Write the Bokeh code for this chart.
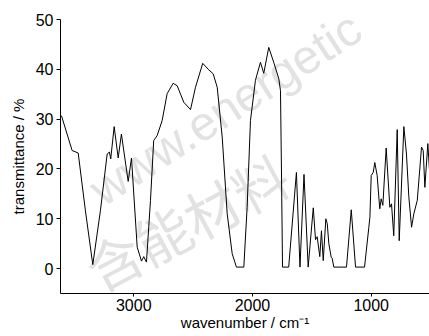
from bokeh.plotting import figure
from bokeh.models import Range1d, FixedTicker, Label
from bokeh.embed import file_html
from bokeh.resources import INLINE

# IR spectrum (wavenumber in cm-1, transmittance in %)
wavenumber = [3609, 3519, 3468, 3407, 3345, 3281, 3224, 3205, 3194, 3165, 3131, 3104,
              3047, 3019, 2971, 2935, 2916, 2893, 2859, 2832, 2803, 2761, 2719, 2668,
              2634, 2579, 2522, 2480, 2419, 2368, 2331, 2297, 2255, 2213, 2171, 2135,
              2073, 2045, 2017, 1975, 1933, 1905, 1863, 1821, 1778, 1764, 1756, 1747,
              1695, 1630, 1600, 1566, 1531, 1488, 1469, 1455, 1433, 1419, 1404, 1382,
              1370, 1357, 1337, 1329, 1315, 1208, 1168, 1132, 1056, 1020, 1011, 1000,
              983, 970, 950, 928, 916, 902, 874, 843, 829, 810, 781, 764, 725, 703,
              683, 660, 641, 612, 576, 562, 548, 523, 510]
transmittance = [30.7, 23.7, 23.2, 11.6, 0.8, 11.6, 23.0, 23.4, 22.0, 28.5, 22.2, 27.0,
                 17.5, 22.2, 4.3, 1.5, 2.4, 1.3, 13.7, 25.7, 26.7, 29.7, 35.1, 37.2,
                 36.7, 33.4, 31.9, 36.4, 41.2, 39.9, 39.1, 36.4, 26.4, 11.0, 3.0, 0.3,
                 0.3, 12.3, 29.7, 37.8, 41.4, 39.2, 44.4, 41.4, 38.1, 35.7, 20.0, 0.3,
                 0.3, 19.3, 0.3, 18.9, 0.3, 12.2, 5.8, 6.4, 2.4, 7.6, 1.6, 10.0,
                 9.0, 5.0, 2.3, 2.1, 0.3, 0.3, 11.8, 0.3, 0.3, 8.3, 10.3, 18.7,
                 19.3, 21.3, 18.7, 12.0, 14.0, 12.7, 24.2, 12.3, 13.0, 6.6, 27.9, 5.6, 28.5, 23.0,
                 14.4, 8.3, 11.0, 13.7, 24.4, 23.7, 16.3, 25.1, 20.0]
x_ticks = [1000, 2000, 3000]
y_ticks = [0, 10, 20, 30, 40, 50]

FONT = "Liberation Sans"

p = figure(width=429, height=336, output_backend="svg", toolbar_location=None,
           x_range=Range1d(3617, 509), y_range=Range1d(-5, 50),
           min_border_left=60, min_border_right=0, min_border_top=19, min_border_bottom=43)
p.outline_line_color = None
p.grid.visible = False
p.background_fill_color = "white"

# faint watermark
wm1 = Label(x=2227, y=32.1, text="www.energetic", angle=33, angle_units="deg",
            text_align="center", text_baseline="middle",
            text_font="Liberation Sans", text_font_size="48px", text_color="#e2e2e2",
            level="underlay")
wm2 = Label(x=2556, y=9.6, text="含能材料", angle=28, angle_units="deg",
            text_align="center", text_baseline="middle",
            text_font="Noto Sans CJK SC", text_font_size="55px", text_color="#e2e2e2",
            level="underlay")
p.add_layout(wm1)
p.add_layout(wm2)

p.line(wavenumber, transmittance, line_color="black", line_width=1)

for ax in (p.xaxis[0], p.yaxis[0]):
    ax.axis_line_color = "black"
    ax.major_tick_line_color = "black"
    ax.minor_tick_line_color = None
    ax.major_label_text_font = FONT
    ax.major_label_text_font_size = "16px"
    ax.major_label_text_color = "black"
    ax.axis_label_text_font = FONT
    ax.axis_label_text_font_size = "15px"
    ax.axis_label_text_font_style = "normal"
    ax.axis_label_text_color = "black"

p.xaxis.ticker = FixedTicker(ticks=x_ticks)
p.yaxis.ticker = FixedTicker(ticks=y_ticks)
p.xaxis.major_tick_out = 3
p.xaxis.major_tick_in = 0
p.yaxis.major_tick_out = 4
p.yaxis.major_tick_in = 0
p.xaxis.major_label_standoff = 2
p.yaxis.major_label_standoff = 3
p.xaxis.axis_label = "wavenumber / cm⁻¹"
p.yaxis.axis_label = "transmittance / %"
p.xaxis.axis_label_standoff = 0
p.yaxis.axis_label_standoff = 6

open("out.html", "w").write(file_html(p, INLINE))
